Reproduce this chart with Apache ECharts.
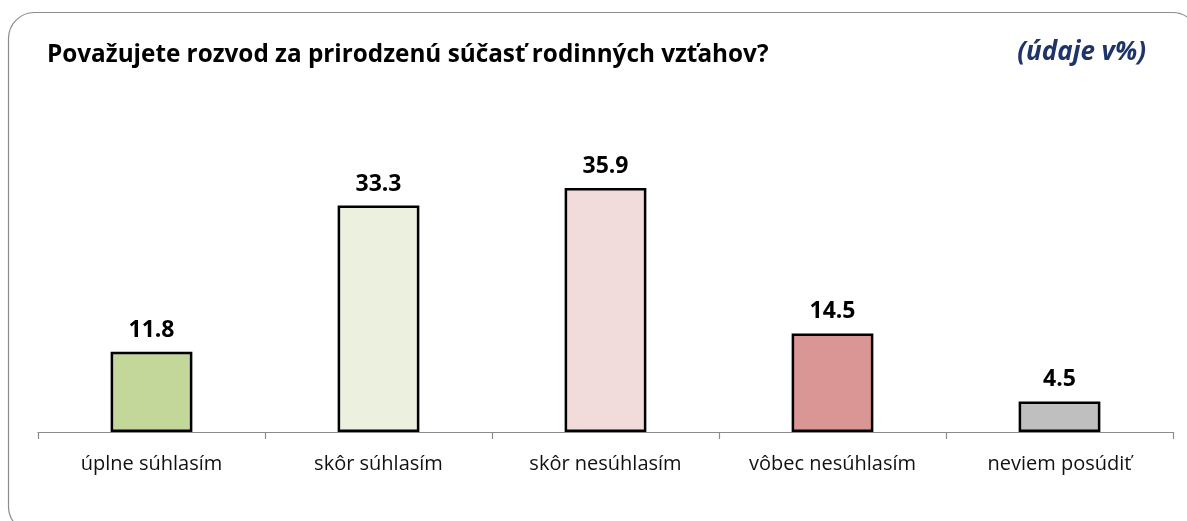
<!DOCTYPE html>
<html>
<head>
<meta charset="utf-8">
<script src="https://cdn.jsdelivr.net/npm/echarts@6/dist/echarts.min.js"></script>
<style>
	html, body { margin: 0; padding: 0; background: #fff; }
	#chart { width: 1187px; height: 521px; }
</style>
</head>
<body>
<div id="chart"></div>
<script>
	// kategórie a hodnoty (údaje v %)
	var categories = ['úplne súhlasím', 'skôr súhlasím', 'skôr nesúhlasím', 'vôbec nesúhlasím', 'neviem posúdiť'];
	var values = [11.8, 33.3, 35.9, 14.5, 4.5];
	var barColors = ['#C4D79B', '#EBF1DE', '#F2DCDB', '#DA9694', '#BFBFBF'];

	var myChart = echarts.init(document.getElementById('chart'));

	var data = values.map(function(v, i) {
		return {
			value: v,
			itemStyle: { color: barColors[i] }
		};
	});

	var option = {
		animation: false,
		graphic: [{
			type: 'rect',
			shape: { x: 8.5, y: 12.5, width: 1190, height: 520, r: 26 },
			style: { fill: 'none', stroke: '#8c8c8c', lineWidth: 1.2 },
			z: -1
		}],
		title: [{
			text: 'Považujete rozvod za prirodzenú súčasť rodinných vzťahov?',
			left: 42,
			top: 38,
			textStyle: { fontFamily: 'Open Sans', fontWeight: 'bold', fontSize: 24.3, color: '#000' }
		}, {
			text: '(údaje v%)',
			right: 36,
			top: 35,
			textStyle: { fontFamily: 'Open Sans', fontWeight: 'bold', fontStyle: 'italic', fontSize: 26, color: '#1F3468' }
		}],
		grid: {
			left: 38,
			right: 14,
			top: 126,
			bottom: 89
		},
		xAxis: {
			type: 'category',
			data: categories,
			axisLine: { lineStyle: { color: '#8c8c8c', width: 1.2 } },
			axisTick: { show: true, length: 7, lineStyle: { color: '#8c8c8c', width: 1.2 } },
			axisLabel: { fontFamily: 'Open Sans', fontSize: 20, color: '#111', margin: 22 }
		},
		yAxis: {
			type: 'value',
			min: 0,
			max: 45,
			show: false
		},
		series: [{
			type: 'bar',
			data: data,
			barWidth: '36%',
			itemStyle: { borderColor: '#000', borderWidth: 2.5 },
			label: {
				show: true,
				position: 'top',
				distance: 10,
				fontFamily: 'Open Sans',
				fontWeight: 'bold',
				fontSize: 23,
				color: '#000',
				formatter: function(p) { return p.value.toFixed(1); }
			}
		}]
	};

	myChart.setOption(option, true);
</script>
</body>
</html>
